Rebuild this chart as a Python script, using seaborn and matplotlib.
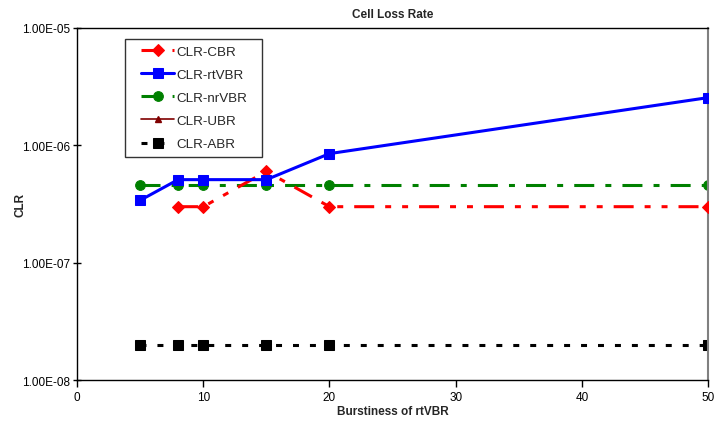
import matplotlib
matplotlib.use("Agg")
import matplotlib.pyplot as plt
import seaborn as sns
import numpy as np
from matplotlib.ticker import FixedLocator, FuncFormatter, NullLocator
from matplotlib.offsetbox import DrawingArea

sns.set_style("white")
plt.rcParams['font.family'] = ['Liberation Sans', 'DejaVu Sans']
plt.rcParams['lines.scale_dashes'] = False

# Data
x_cbr = [8, 10, 15, 20, 50]
y_cbr = [3.0e-7, 3.0e-7, 6.0e-7, 3.0e-7, 3.0e-7]
x_rt = [5, 8, 10, 15, 20, 50]
y_rt = [3.4e-7, 5.1e-7, 5.1e-7, 5.1e-7, 8.5e-7, 2.55e-6]
x_nrt = [5, 8, 10, 15, 20, 50]
y_nrt = [4.6e-7, 4.6e-7, 4.6e-7, 4.6e-7, 4.6e-7, 4.6e-7]
x_ubr = []
y_ubr = []
x_abr = [5, 8, 10, 15, 20, 50]
y_abr = [2.0e-8, 2.0e-8, 2.0e-8, 2.0e-8, 2.0e-8, 2.0e-8]
y_ticks = [1e-8, 1e-7, 1e-6, 1e-5]
x_ticks = [0, 10, 20, 30, 40, 50]

fig = plt.figure(figsize=(7.14, 4.27), dpi=100)
ax = fig.add_axes([0.108, 0.1077, 0.8836, 0.8244])

lw = 2.2
sns.lineplot(x=x_cbr, y=y_cbr, ax=ax, color='#ff0000', lw=lw, marker='D', markersize=6,
             markeredgecolor='#ff0000', linestyle=(0, (14.4, 7.9, 4.3, 7.9, 4.3, 7.9)),
             label='CLR-CBR', zorder=3)
sns.lineplot(x=x_rt, y=y_rt, ax=ax, color='#0000ff', lw=lw, marker='s', markersize=7,
             markeredgecolor='#0000ff', linestyle='-', label='CLR-rtVBR', zorder=4)
sns.lineplot(x=x_nrt, y=y_nrt, ax=ax, color='#008000', lw=lw, marker='o', markersize=7,
             markeredgecolor='#008000', linestyle=(0, (14.4, 8, 4.3, 8)),
             label='CLR-nrVBR', zorder=2)
ax.plot(x_ubr, y_ubr, color='#800000', lw=1.2, marker='^', markersize=4,
        markeredgecolor='#800000', linestyle='-', label='CLR-UBR')
sns.lineplot(x=x_abr, y=y_abr, ax=ax, color='#000000', lw=lw, marker='s', markersize=7,
             markeredgecolor='#000000', linestyle=(0, (4.3, 7.9)),
             label='CLR-ABR', zorder=2)

ax.set_yscale('log')
ax.set_xlim(0, 50)
ax.set_ylim(1e-8, 1e-5)
ax.yaxis.set_major_locator(FixedLocator(y_ticks))
ax.yaxis.set_minor_locator(NullLocator())
ax.yaxis.set_major_formatter(FuncFormatter(lambda v, p: "%.2E" % v))
ax.set_xticks(x_ticks)

for s in ['left', 'bottom', 'top']:
    ax.spines[s].set_color('#000000')
    ax.spines[s].set_linewidth(1.0)
ax.spines['right'].set_color('#808080')
ax.spines['right'].set_linewidth(1.5)

ax.tick_params(axis='x', direction='out', length=5, width=1, colors='black', labelsize=8.5, pad=3, bottom=True)
ax.tick_params(axis='y', direction='inout', length=6, width=1, colors='black', labelsize=8.5, pad=2, left=True)

ax.set_title('Cell Loss Rate', fontsize=8.5, fontweight='bold', pad=8)
ax.set_xlabel('Burstiness of rtVBR', fontsize=8.5, fontweight='bold', labelpad=1)
ax.set_ylabel('CLR', fontsize=8.5, fontweight='bold')
ax.yaxis.set_label_coords(-0.081, 0.5)

leg = ax.legend(loc='upper left', bbox_to_anchor=(0.076, 0.969), fontsize=9.6, frameon=True,
                fancybox=False, edgecolor='black', handlelength=2.5, handletextpad=0.15,
                labelspacing=0.81, borderpad=0.48, borderaxespad=0)
leg.get_frame().set_linewidth(1.0)
try:
    for col in leg._legend_handle_box.get_children():
        for item in col.get_children():
            item.get_children().insert(0, DrawingArea(5.5, 1))
            item.get_children().append(DrawingArea(4.8, 1))
except Exception:
    pass

fig.savefig('out.png', dpi=100)
